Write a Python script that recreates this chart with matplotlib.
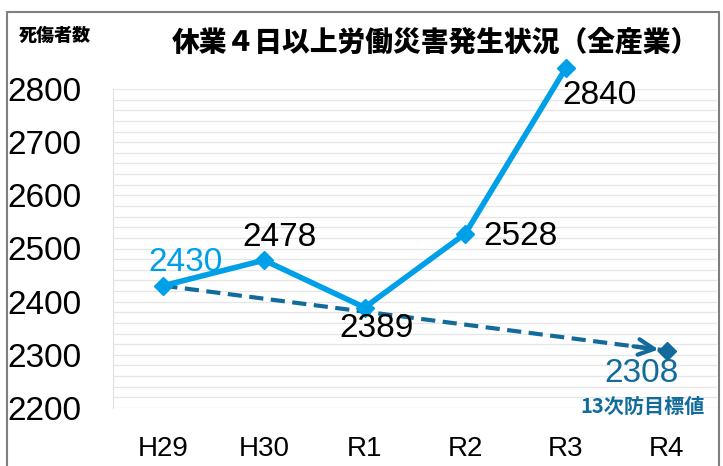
import matplotlib.pyplot as plt
from matplotlib.patches import Rectangle

# data
years = ['H29', 'H30', 'R1', 'R2', 'R3', 'R4']
cases = [2430, 2478, 2389, 2528, 2840]
target_x = [0, 5]
target_y = [2430, 2308]
y_ticks = [2200, 2300, 2400, 2500, 2600, 2700, 2800]

light_blue = '#00a0e9'
dark_blue = '#136b9c'
num_font = 'Liberation Sans'
jp_font = ['Noto Sans CJK JP', 'DejaVu Sans']

fig = plt.figure(figsize=(7.23, 4.66), dpi=100)
ax = fig.add_axes([113 / 723, 1 - 408 / 466, (717 - 113) / 723, (408 - 89) / 466])

# outer frame
fig.patches.append(Rectangle((7 / 723, -0.1), (719 - 7) / 723, 1.1 - 12 / 466,
                             transform=fig.transFigure, fill=False,
                             edgecolor='#7f7f7f', lw=1.5))

ax.set_xlim(-0.5, 5.5)
ax.set_ylim(2200, 2800)

# light gridlines every 20
for g in range(2200, 2801, 20):
    ax.axhline(g, color='#e6e6e6', lw=0.9, zorder=0)

for s in ['top', 'right', 'bottom']:
    ax.spines[s].set_visible(False)
ax.spines['left'].set_color('#e0e0e0')

ax.set_yticks(y_ticks)
ax.set_yticklabels([str(v) for v in y_ticks], fontsize=24, family=num_font)
for lab in ax.get_yticklabels():
    lab.set_ha('left')
ax.tick_params(axis='y', length=0, pad=76)
ax.set_xticks(range(len(years)))
ax.set_xticklabels(years, fontsize=20, family=num_font)
ax.tick_params(axis='x', length=0, pad=20)

# target trend line (dashed with arrow)
ax.plot(target_x, target_y, linestyle=(0, (3.4, 1.8)), color=dark_blue, lw=3,
        zorder=2, clip_on=False)
tip = 4.92
tip_y = target_y[0] + (target_y[1] - target_y[0]) * tip / 5
ax.annotate('', xy=(tip, tip_y), xytext=(tip - 0.25, tip_y + 6),
            arrowprops=dict(arrowstyle='->', color=dark_blue, lw=3,
                            mutation_scale=28, shrinkA=0, shrinkB=0), zorder=3)
ax.plot(target_x[1], target_y[1], marker='D', color=dark_blue, markersize=9,
        zorder=3, clip_on=False)

# actual cases
ax.plot(range(len(cases)), cases, color=light_blue, lw=4, marker='D',
        markersize=9, zorder=4, clip_on=False)

# value labels
offsets = [(22, 23), (15, 23), (12, -21), (55, -3), (33, -28)]
colors = [light_blue, 'black', 'black', 'black', 'black']
for i, v in enumerate(cases):
    ax.annotate(str(v), (i, v), xytext=offsets[i], textcoords='offset pixels',
                ha='center', va='center', fontsize=24, family=num_font,
                color=colors[i], zorder=5, annotation_clip=False)
ax.annotate(str(target_y[1]), (target_x[1], target_y[1]), xytext=(-25, -23),
            textcoords='offset pixels', ha='center', va='center', fontsize=24,
            family=num_font, color=dark_blue, annotation_clip=False)
ax.annotate('13次防目標値', (target_x[1], target_y[1]), xytext=(-24, -56),
            textcoords='offset pixels', ha='center', va='center', fontsize=14.5,
            family=jp_font, fontweight='bold', color=dark_blue,
            annotation_clip=False)

# titles
fig.text(435 / 723, 1 - 42 / 466, '休業４日以上労働災害発生状況（全産業）',
         ha='center', va='center', fontsize=20, fontweight='heavy', family=jp_font)
fig.text(55 / 723, 1 - 35 / 466, '死傷者数', ha='center', va='center',
         fontsize=13, fontweight='heavy', family=jp_font)

fig.savefig('out.png', dpi=100)
